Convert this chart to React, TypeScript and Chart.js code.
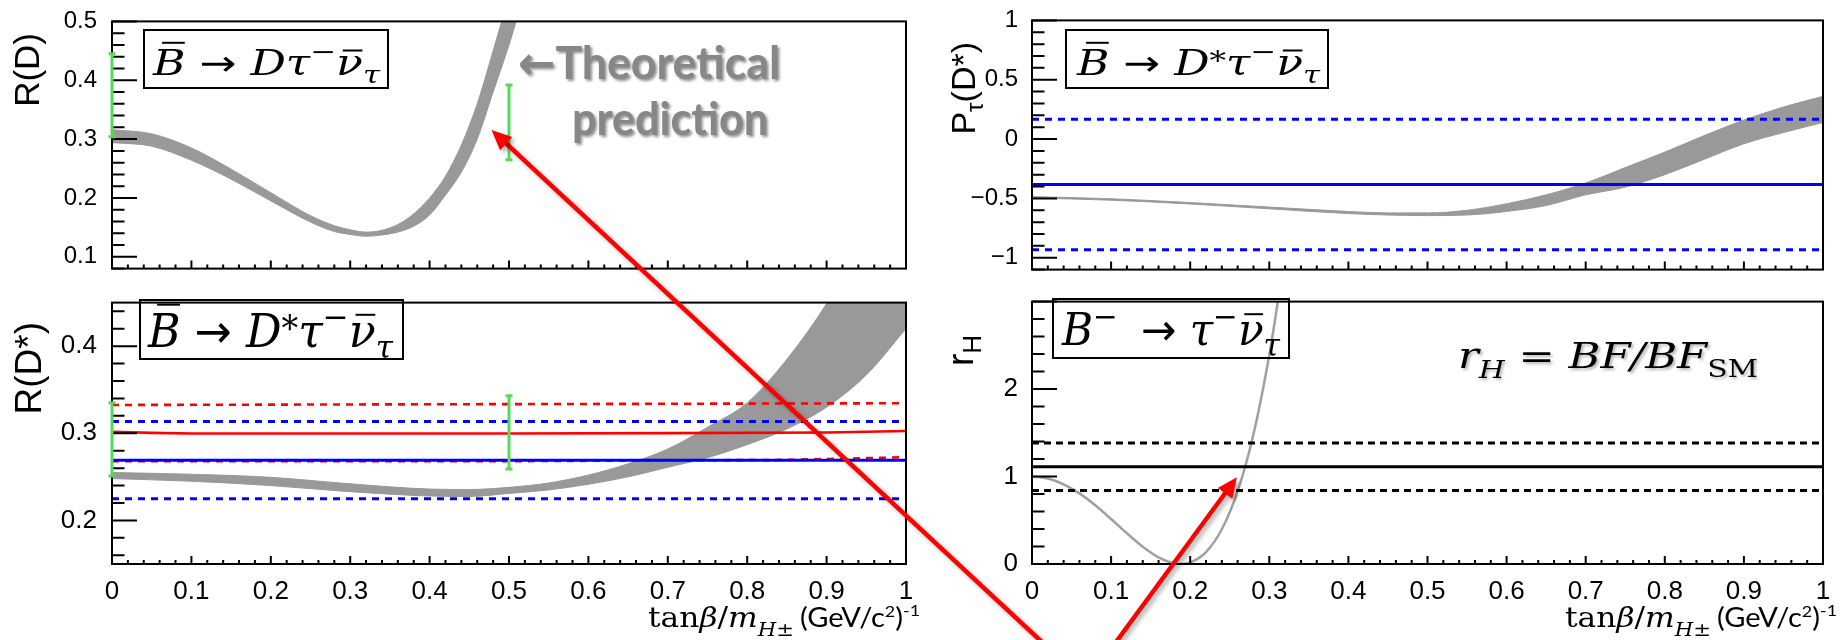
import React, { useEffect, useRef } from 'react';
import { Chart, registerables } from 'chart.js';

Chart.register(...registerables);

const SANS = '"Liberation Sans", Arial, sans-serif';

// ---------------- data ----------------
const X_TICKS = [0, 0.1, 0.2, 0.3, 0.4, 0.5, 0.6, 0.7, 0.8, 0.9, 1];

// Panel 1: R(D)
const RD_YTICKS = [0.1, 0.2, 0.3, 0.4, 0.5];
const RD_T = [0, 0.05, 0.1, 0.15, 0.2, 0.25, 0.28, 0.3, 0.32, 0.34, 0.36, 0.38, 0.4, 0.42, 0.44, 0.46, 0.48, 0.5, 0.52];
const RD_HI = [0.316, 0.309, 0.285, 0.249, 0.209, 0.17, 0.153, 0.146, 0.142, 0.145, 0.155, 0.173, 0.2, 0.237, 0.29, 0.36, 0.45, 0.545, 0.65];
const RD_LO = [0.294, 0.288, 0.264, 0.232, 0.195, 0.159, 0.143, 0.138, 0.135, 0.137, 0.142, 0.152, 0.171, 0.205, 0.244, 0.3, 0.38, 0.46, 0.55];
const RD_ERR_X = [0, 0.5];
const RD_ERR_LO = [0.304, 0.265];
const RD_ERR_HI = [0.445, 0.392];

// Panel 2: R(D*)
const RDS_YTICKS = [0.2, 0.3, 0.4];
const RDS_T = [0, 0.1, 0.2, 0.3, 0.4, 0.45, 0.5, 0.55, 0.6, 0.65, 0.7, 0.75, 0.8, 0.85, 0.9, 0.95, 1.0];
const RDS_HI = [0.255, 0.253, 0.2495, 0.242, 0.236, 0.2355, 0.238, 0.243, 0.252, 0.265, 0.282, 0.307, 0.335, 0.385, 0.449, 0.53, 0.62];
const RDS_LO = [0.248, 0.245, 0.24, 0.233, 0.228, 0.2275, 0.231, 0.235, 0.2415, 0.25, 0.261, 0.272, 0.287, 0.305, 0.33, 0.367, 0.42];
const RDS_RED_T = [0, 0.05, 0.1, 0.3, 0.5, 0.7, 0.9, 1];
const RDS_RED = [0.3018, 0.3005, 0.2998, 0.2998, 0.2998, 0.3002, 0.301, 0.3027];
const RDS_RED_UP_T = [0, 1];
const RDS_RED_UP = [0.3325, 0.3345];
const RDS_RED_DN_T = [0, 0.5, 0.85, 1];
const RDS_RED_DN = [0.268, 0.268, 0.2695, 0.2725];
const RDS_BLUE = 0.2692;
const RDS_BLUE_UP = 0.3136;
const RDS_BLUE_DN = 0.225;
const RDS_ERR_X = [0, 0.5];
const RDS_ERR_LO = [0.251, 0.259];
const RDS_ERR_HI = [0.335, 0.343];

// Panel 3: P_tau(D*)
const PT_YTICKS = [-1, -0.5, 0, 0.5, 1];
const PT_T = [0, 0.1, 0.2, 0.3, 0.4, 0.45, 0.5, 0.55, 0.6, 0.65, 0.7, 0.75, 0.8, 0.85, 0.9, 0.95, 1.0];
const PT_HI = [-0.485, -0.503, -0.535, -0.573, -0.61, -0.622, -0.622, -0.6, -0.545, -0.47, -0.37, -0.24, -0.11, 0.03, 0.16, 0.27, 0.36];
const PT_LO = [-0.497, -0.515, -0.547, -0.588, -0.628, -0.64, -0.645, -0.64, -0.61, -0.56, -0.47, -0.405, -0.3, -0.17, -0.04, 0.055, 0.14];
const PT_BLUE = -0.382;
const PT_BLUE_UP = 0.167;
const PT_BLUE_DN = -0.933;

// Panel 4: r_H
const RH_YTICKS = [0, 1, 2];
const RH_YMAJORS = [0, 1, 2, 3];
const RH_T = [0, 0.02, 0.04, 0.06, 0.08, 0.1, 0.12, 0.14, 0.16, 0.18, 0.19, 0.2, 0.22, 0.24, 0.26, 0.28, 0.3, 0.31, 0.32];
const RH_V = [1.0, 0.978, 0.911, 0.807, 0.671, 0.514, 0.351, 0.198, 0.076, 0.007, 0.0, 0.017, 0.137, 0.397, 0.833, 1.484, 2.39, 2.955, 3.6];
const RH_BLACK = 1.112;
const RH_BLACK_UP = 1.384;
const RH_BLACK_DN = 0.84;

// annotation arrow tips (data coordinates of the panels they point at)
const ARROW_TL = [0.478, 0.3156];
const ARROW_BR = [0.259, 0.992];

// ---------------- text helpers ----------------
type Tok = { t: string; f: string; dy?: number; bar?: number[] };

const SERIF = '"DejaVu Serif"';
const serI = (s: number) => `italic ${s}px ${SERIF}`;
const serR = (s: number) => `${s}px ${SERIF}`;
const arrowF = (s: number) => `${s}px "DejaVu Sans"`;
const sans = (s: number) => `${s}px ${SANS}`;

function measureToks(ctx: CanvasRenderingContext2D, toks: Tok[]) {
  return toks.map((k) => {
    ctx.font = k.f;
    return ctx.measureText(k.t).width;
  });
}

function drawToks(ctx: CanvasRenderingContext2D, toks: Tok[], x: number, y: number, targetW?: number) {
  const ws = measureToks(ctx, toks);
  const W = ws.reduce((a, b) => a + b, 0);
  const sx = targetW ? targetW / W : 1;
  ctx.save();
  ctx.translate(x, y);
  ctx.scale(sx, 1);
  ctx.textAlign = 'left';
  ctx.textBaseline = 'alphabetic';
  let cx = 0;
  toks.forEach((k, i) => {
    ctx.font = k.f;
    ctx.fillText(k.t, cx, k.dy || 0);
    if (k.bar) {
      ctx.fillRect(cx + ws[i] * k.bar[0], (k.dy || 0) - k.bar[2] - 1, ws[i] * (k.bar[1] - k.bar[0]), 2);
    }
    cx += ws[i];
  });
  ctx.restore();
  return W * sx;
}

function bbarToks(S: number, star: boolean): Tok[] {
  const t: Tok[] = [
    { t: 'B', f: serI(S), bar: [0.28, 0.98, 0.92 * S] },
    { t: ' \u2192 ', f: arrowF(S) },
    { t: 'D', f: serI(S) },
  ];
  if (star) t.push({ t: '*', f: serR(0.75 * S), dy: -0.14 * S });
  t.push(
    { t: '\u03C4', f: serI(S) },
    { t: '\u2212', f: serR(0.7 * S), dy: -0.42 * S },
    { t: '\u03BD', f: serI(S), bar: [0.25, 0.98, 0.7 * S] },
    { t: '\u03C4', f: serI(0.7 * S), dy: 0.24 * S },
  );
  return t;
}

function bminusToks(S: number): Tok[] {
  return [
    { t: 'B', f: serI(S) },
    { t: '\u2212 ', f: serR(0.7 * S), dy: -0.42 * S },
    { t: ' \u2192 ', f: arrowF(S) },
    { t: '\u03C4', f: serI(S) },
    { t: '\u2212', f: serR(0.7 * S), dy: -0.42 * S },
    { t: '\u03BD', f: serI(S), bar: [0.25, 0.98, 0.7 * S] },
    { t: '\u03C4', f: serI(0.7 * S), dy: 0.24 * S },
  ];
}

const XT_SERIF: Tok[] = [
  { t: 'tan', f: serR(28) },
  { t: '\u03B2', f: serI(28) },
  { t: '/', f: serR(28) },
  { t: 'm', f: serI(28) },
  { t: 'H', f: serI(19), dy: 9 },
  { t: '\u00B1', f: serR(19), dy: 9 },
];
const XT_SANS: Tok[] = [
  { t: '(GeV/c', f: '26px Lato' },
  { t: '2', f: '16px Lato', dy: -10 },
  { t: ')', f: '26px Lato' },
  { t: '-1', f: '16px Lato', dy: -11 },
];
const RH_FORMULA: Tok[] = [
  { t: 'r', f: serI(35) },
  { t: 'H', f: serI(24), dy: 10 },
  { t: ' = ', f: serR(35) },
  { t: 'BF/BF', f: serI(35) },
  { t: 'SM', f: serR(24), dy: 9 },
];

// ---------------- dataset helpers ----------------
const pts = (xs: number[], ys: number[]) => xs.map((x, i) => ({ x, y: ys[i] }));
const flat = (v: number) => [{ x: 0, y: v }, { x: 1, y: v }];

function lineDs(data: any[], color: string, width: number, dash: number[] = []) {
  return { data, borderColor: color, borderWidth: width, borderDash: dash, pointRadius: 0, pointHoverRadius: 0, fill: false, tension: 0 };
}
function curveDs(data: any[], color: string, width: number) {
  return { data, borderColor: color, borderWidth: width, pointRadius: 0, pointHoverRadius: 0, fill: false, cubicInterpolationMode: 'monotone' };
}
function bandDs(xs: number[], lo: number[], hi: number[], color = '#999999') {
  const base = { borderColor: color, backgroundColor: color, borderWidth: 1, pointRadius: 0, pointHoverRadius: 0, cubicInterpolationMode: 'monotone' };
  return [
    { ...base, data: pts(xs, lo), fill: false },
    { ...base, data: pts(xs, hi), fill: '-1' },
  ];
}

const fmt = (v: number) => {
  const r = Math.round(v * 1000) / 1000;
  if (r === 0) return '0';
  const s = String(Math.abs(r));
  return r < 0 ? '\u2212' + s : s;
};

// ---------------- panel ----------------
type Spec = {
  ox: number; oy: number; w: number; h: number;
  caLeft: number; caTop: number; caRight: number; caBottom: number;
  yMin: number; yMax: number; yTicks: number[]; yMajors: number[]; yMinor: number;
  showX: boolean; yFont: number; xFont: number; yPad: number;
  datasets: any[];
  errX?: number[]; errLo?: number[]; errHi?: number[];
  title: { toks: Tok[]; bx: number; yEnd: number };
  box: { x0: number; y0: number; x1: number; y1: number; toks: Tok[]; base: number; padL: number; padR: number };
};

const GREEN = '#58d858';

function panelPlugin(spec: Spec) {
  return {
    id: 'panel',
    afterDraw(chart: any) {
      const { ctx, chartArea: a } = chart;
      const xs = chart.scales.x, ys = chart.scales.y;
      ctx.save();
      ctx.strokeStyle = '#000';
      ctx.lineWidth = 2;
      ctx.strokeRect(a.left, a.top, a.right - a.left, a.bottom - a.top);
      ctx.beginPath();
      // y ticks (inward)
      const ys0 = Math.ceil(spec.yMin / spec.yMinor - 1e-6);
      const ys1 = Math.floor(spec.yMax / spec.yMinor + 1e-6);
      for (let n = ys0; n <= ys1; n++) {
        const v = n * spec.yMinor;
        const major = spec.yMajors.some((m) => Math.abs(m - v) < spec.yMinor / 10);
        const py = ys.getPixelForValue(v);
        ctx.moveTo(a.left, py);
        ctx.lineTo(a.left + (major ? 25 : 12.5), py);
      }
      // x ticks (inward)
      for (let n = 0; n <= 50; n++) {
        const v = n * 0.02;
        const major = X_TICKS.some((m) => Math.abs(m - v) < 0.002);
        const px = xs.getPixelForValue(v);
        ctx.moveTo(px, a.bottom);
        ctx.lineTo(px, a.bottom - (major ? 8 : 4));
      }
      ctx.stroke();
      ctx.restore();

      // error bars (drawn over the frame, like the reference)
      if (spec.errX) {
        ctx.save();
        ctx.strokeStyle = GREEN;
        ctx.lineWidth = 3;
        spec.errX.forEach((x, i) => {
          const px = xs.getPixelForValue(x);
          const p1 = ys.getPixelForValue(spec.errLo![i]);
          const p2 = ys.getPixelForValue(spec.errHi![i]);
          ctx.beginPath();
          ctx.moveTo(px, p1); ctx.lineTo(px, p2);
          ctx.moveTo(px - 3.5, p1); ctx.lineTo(px + 3.5, p1);
          ctx.moveTo(px - 3.5, p2); ctx.lineTo(px + 3.5, p2);
          ctx.stroke();
        });
        ctx.restore();
      }

      // y-axis title (rotated)
      ctx.save();
      ctx.fillStyle = '#000';
      const tw = measureToks(ctx, spec.title.toks).reduce((p, q) => p + q, 0);
      ctx.translate(spec.title.bx - spec.ox, spec.title.yEnd - spec.oy);
      ctx.rotate(-Math.PI / 2);
      drawToks(ctx, spec.title.toks, -tw, 0);
      ctx.restore();

      // decay label box
      const b = spec.box;
      ctx.save();
      ctx.strokeStyle = '#000';
      ctx.lineWidth = 2;
      ctx.strokeRect(b.x0 - spec.ox, b.y0 - spec.oy, b.x1 - b.x0, b.y1 - b.y0);
      ctx.fillStyle = '#000';
      drawToks(ctx, b.toks, b.x0 + b.padL - spec.ox, b.base - spec.oy, b.x1 - b.x0 - b.padL - b.padR);
      ctx.restore();
    },
  };
}

function makePanel(canvas: HTMLCanvasElement, spec: Spec) {
  return new Chart(canvas, {
    type: 'line',
    data: { datasets: spec.datasets },
    options: {
      responsive: false,
      animation: false,
      devicePixelRatio: 1,
      events: [],
      layout: {
        padding: { left: 0, top: spec.caTop - spec.oy, right: spec.ox + spec.w - spec.caRight, bottom: 0 },
        autoPadding: false,
      },
      plugins: { legend: { display: false }, tooltip: { enabled: false }, title: { display: false } },
      scales: {
        x: {
          type: 'linear',
          min: 0,
          max: 1,
          grid: { display: false },
          border: { display: false },
          afterBuildTicks: (s: any) => { s.ticks = X_TICKS.map((v) => ({ value: v })); },
          afterFit: (s: any) => { s.height = spec.oy + spec.h - spec.caBottom; },
          ticks: {
            display: spec.showX,
            autoSkip: false,
            maxRotation: 0,
            padding: 4,
            color: '#000',
            font: { family: SANS, size: spec.xFont },
            callback: (v: any) => fmt(Number(v)),
          },
        },
        y: {
          type: 'linear',
          min: spec.yMin,
          max: spec.yMax,
          grid: { display: false },
          border: { display: false },
          afterBuildTicks: (s: any) => { s.ticks = spec.yTicks.map((v) => ({ value: v })); },
          afterFit: (s: any) => { s.width = spec.caLeft - spec.ox; },
          ticks: {
            autoSkip: false,
            padding: spec.yPad,
            color: '#000',
            font: { family: SANS, size: spec.yFont },
            callback: (v: any) => fmt(Number(v)),
          },
        },
      },
    } as any,
    plugins: [panelPlugin(spec) as any],
  });
}

function drawArrow(ctx: CanvasRenderingContext2D, x0: number, y0: number, x1: number, y1: number) {
  const dx = x1 - x0, dy = y1 - y0;
  const L = Math.hypot(dx, dy);
  const ux = dx / L, uy = dy / L;
  const hl = 20, hw = 9;
  const bx = x1 - ux * hl, by = y1 - uy * hl;
  ctx.beginPath();
  ctx.moveTo(x0, y0);
  ctx.lineTo(bx + ux * 2, by + uy * 2);
  ctx.stroke();
  ctx.beginPath();
  ctx.moveTo(x1, y1);
  ctx.lineTo(bx - uy * hw, by + ux * hw);
  ctx.lineTo(bx + uy * hw, by - ux * hw);
  ctx.closePath();
  ctx.fill();
}

function drawOverlay(cv: HTMLCanvasElement, tl: Chart, br: Chart) {
  const ctx = cv.getContext('2d')!;
  ctx.clearRect(0, 0, cv.width, cv.height);
  ctx.fillStyle = '#000';
  for (const x0 of [648, 1565]) {
    drawToks(ctx, XT_SERIF, x0, 627, 146);
    drawToks(ctx, XT_SANS, x0 + 152, 627, 120);
  }
  ctx.save();
  ctx.shadowColor = 'rgba(0,0,0,0.3)';
  ctx.shadowBlur = 3;
  ctx.shadowOffsetX = 2;
  ctx.shadowOffsetY = 2;
  ctx.fillStyle = '#000';
  drawToks(ctx, RH_FORMULA, 1458, 368, 300);
  ctx.restore();

  ctx.save();
  ctx.shadowColor = 'rgba(0,0,0,0.45)';
  ctx.shadowBlur = 3;
  ctx.shadowOffsetX = 2;
  ctx.shadowOffsetY = 2;
  ctx.fillStyle = '#878787';
  drawToks(ctx, [{ t: '\u2190', f: 'bold 46px "DejaVu Sans"' }, { t: 'Theoretical', f: 'bold 46px Lato' }], 518, 79, 262);
  drawToks(ctx, [{ t: 'prediction', f: 'bold 46px Lato' }], 572, 135, 196);
  ctx.restore();

  const sx: any = tl.scales.x, sy: any = tl.scales.y;
  const bx: any = br.scales.x, by: any = br.scales.y;
  const tip1 = [sx.getPixelForValue(ARROW_TL[0]), sy.getPixelForValue(ARROW_TL[1])];
  const tip2 = [bx.getPixelForValue(ARROW_BR[0]) + 930, by.getPixelForValue(ARROW_BR[1]) + 280];
  const origin = [1086, 683];
  ctx.save();
  ctx.strokeStyle = '#ff0000';
  ctx.fillStyle = '#ff0000';
  ctx.lineWidth = 4.5;
  ctx.shadowColor = 'rgba(0,0,0,0.3)';
  ctx.shadowBlur = 4;
  ctx.shadowOffsetX = 3;
  ctx.shadowOffsetY = 3;
  drawArrow(ctx, origin[0], origin[1], tip1[0], tip1[1]);
  drawArrow(ctx, origin[0], origin[1], tip2[0], tip2[1]);
  ctx.restore();
}

export default function App() {
  const tlRef = useRef<HTMLCanvasElement>(null);
  const blRef = useRef<HTMLCanvasElement>(null);
  const trRef = useRef<HTMLCanvasElement>(null);
  const brRef = useRef<HTMLCanvasElement>(null);
  const ovRef = useRef<HTMLCanvasElement>(null);

  useEffect(() => {
    const tl = makePanel(tlRef.current!, {
      ox: 0, oy: 0, w: 930, h: 290, caLeft: 112, caTop: 16, caRight: 906, caBottom: 289,
      yMin: 0.08, yMax: 0.5, yTicks: RD_YTICKS, yMajors: RD_YTICKS, yMinor: 0.02,
      showX: false, yFont: 24, xFont: 24, yPad: 7,
      datasets: [...bandDs(RD_T, RD_LO, RD_HI)],
      errX: RD_ERR_X, errLo: RD_ERR_LO, errHi: RD_ERR_HI,
      title: { toks: [{ t: 'R(D)', f: sans(35) }], bx: 39, yEnd: 33 },
      box: { x0: 144, y0: 30, x1: 388, y1: 88, toks: bbarToks(35, false), base: 75, padL: 9, padR: 8 },
    });
    const bl = makePanel(blRef.current!, {
      ox: 0, oy: 280, w: 930, h: 360, caLeft: 112, caTop: 290, caRight: 906, caBottom: 564,
      yMin: 0.15, yMax: 0.45, yTicks: RDS_YTICKS, yMajors: RDS_YTICKS, yMinor: 0.02,
      showX: true, yFont: 26, xFont: 26, yPad: 7,
      datasets: [
        lineDs(flat(RDS_BLUE), '#0000ff', 3),
        lineDs(pts(RDS_RED_T, RDS_RED), '#ff0000', 2.6),
        lineDs(flat(RDS_BLUE_UP), '#0000ff', 3, [7, 6]),
        lineDs(flat(RDS_BLUE_DN), '#0000ff', 3, [7, 6]),
        lineDs(pts(RDS_RED_UP_T, RDS_RED_UP), '#ff0000', 2.6, [7, 6]),
        lineDs(pts(RDS_RED_DN_T, RDS_RED_DN), '#ff0000', 2.6, [7, 6]),
        ...bandDs(RDS_T, RDS_LO, RDS_HI),
      ],
      errX: RDS_ERR_X, errLo: RDS_ERR_LO, errHi: RDS_ERR_HI,
      title: { toks: [{ t: 'R(D*)', f: sans(37) }], bx: 41, yEnd: 322 },
      box: { x0: 140, y0: 300, x1: 403, y1: 359, toks: bbarToks(46, true), base: 347, padL: 8, padR: 10 },
    });
    const tr = makePanel(trRef.current!, {
      ox: 930, oy: 0, w: 912, h: 290, caLeft: 1032, caTop: 16, caRight: 1823, caBottom: 289,
      yMin: -1.1, yMax: 1, yTicks: PT_YTICKS, yMajors: PT_YTICKS, yMinor: 0.1,
      showX: false, yFont: 24, xFont: 24, yPad: 6,
      datasets: [
        lineDs(flat(PT_BLUE), '#0000ff', 3),
        lineDs(flat(PT_BLUE_UP), '#0000ff', 3, [7, 6]),
        lineDs(flat(PT_BLUE_DN), '#0000ff', 3, [7, 6]),
        ...bandDs(PT_T, PT_LO, PT_HI),
      ],
      title: {
        toks: [{ t: 'P', f: sans(34) }, { t: '\u03C4', f: sans(24), dy: 8 }, { t: '(D*)', f: sans(34) }],
        bx: 975, yEnd: 42,
      },
      box: { x0: 1066, y0: 30, x1: 1328, y1: 88, toks: bbarToks(35, true), base: 75, padL: 11, padR: 8 },
    });
    const br = makePanel(brRef.current!, {
      ox: 930, oy: 280, w: 912, h: 360, caLeft: 1032, caTop: 290, caRight: 1823, caBottom: 564,
      yMin: 0, yMax: 3, yTicks: RH_YTICKS, yMajors: RH_YMAJORS, yMinor: 0.2,
      showX: true, yFont: 26, xFont: 26, yPad: 6,
      datasets: [
        lineDs(flat(RH_BLACK), '#000000', 3),
        lineDs(flat(RH_BLACK_UP), '#000000', 3, [7, 5]),
        lineDs(flat(RH_BLACK_DN), '#000000', 3, [7, 5]),
        curveDs(pts(RH_T, RH_V), '#a0a0a0', 2.5),
      ],
      title: { toks: [{ t: 'r', f: sans(37) }, { t: 'H', f: sans(26), dy: 8 }], bx: 973, yEnd: 335 },
      box: { x0: 1053, y0: 299, x1: 1289, y1: 358, toks: bminusToks(44), base: 345, padL: 9, padR: 9 },
    });
    drawOverlay(ovRef.current!, tl, br);
    return () => {
      tl.destroy();
      bl.destroy();
      tr.destroy();
      br.destroy();
    };
  }, []);

  const abs = (l: number, t: number, w: number, h: number): React.CSSProperties => ({
    position: 'absolute', left: l, top: t, width: w, height: h,
  });

  return (
    <div style={{ position: 'absolute', left: 0, top: 0, width: 1842, height: 640, background: '#ffffff', overflow: 'hidden' }}>
      <canvas ref={tlRef} width={930} height={290} style={abs(0, 0, 930, 290)} />
      <canvas ref={trRef} width={912} height={290} style={abs(930, 0, 912, 290)} />
      <canvas ref={blRef} width={930} height={360} style={abs(0, 280, 930, 360)} />
      <canvas ref={brRef} width={912} height={360} style={abs(930, 280, 912, 360)} />
      <canvas ref={ovRef} width={1842} height={640} style={{ ...abs(0, 0, 1842, 640), pointerEvents: 'none' }} />
    </div>
  );
}
